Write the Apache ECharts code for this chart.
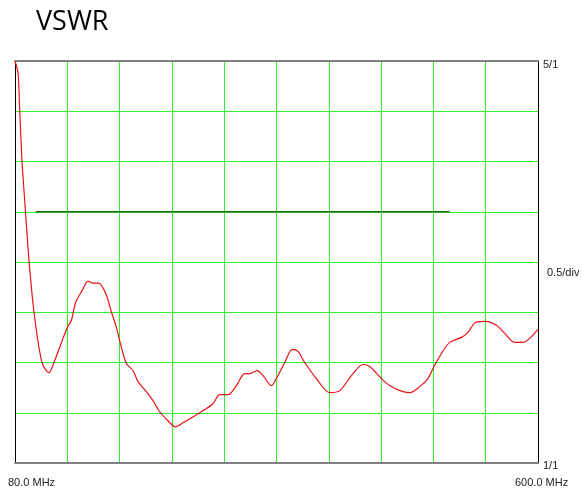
<!DOCTYPE html>
<html>
<head>
<meta charset="utf-8">
<script src="https://cdn.jsdelivr.net/npm/echarts@6/dist/echarts.min.js"></script>
<style>
  html, body { margin: 0; padding: 0; background: #fff; }
  #chart { width: 582px; height: 493px; }
</style>
</head>
<body>
<div id="chart"></div>
<script>
// sweep: frequency (MHz) and measured VSWR
const freqMHz = [80, 83.0, 84.7, 87.0, 89.6, 93.9, 98.9, 106.8, 113.8, 119.5, 124.4, 132.1, 136.1, 140.4, 147.0,
  152.6, 157.6, 163.2, 170.9, 175.9, 180.8, 185.8, 190.8, 197.3, 202.3, 210.6, 217.2, 223.9, 232.1, 239.5,
  247.0, 255.4, 263.6, 276.9, 283.5, 291.8, 300.1, 308.4, 313.4, 320.6, 326.6, 334.9, 339.9, 348.2, 355.8,
  361.4, 368.0, 379.7, 392.9, 402.9, 416.1, 426.0, 432.7, 444.3, 452.6, 462.5, 472.4, 482.4, 490.6, 496.6,
  504.0, 512.2, 523.9, 530.4, 538.1, 548.0, 558.7, 566.9, 576.8, 585.1, 591.7, 600];
const vswr = [5.0, 4.88, 4.50, 4.00, 3.62, 3.02, 2.50, 2.00, 1.90, 2.02, 2.15, 2.35, 2.42, 2.60, 2.72,
  2.81, 2.79, 2.79, 2.67, 2.50, 2.35, 2.15, 1.99, 1.92, 1.81, 1.71, 1.62, 1.51, 1.42, 1.36,
  1.40, 1.45, 1.50, 1.59, 1.68, 1.68, 1.77, 1.89, 1.89, 1.92, 1.87, 1.77, 1.84, 2.00, 2.13,
  2.11, 2.00, 1.84, 1.70, 1.72, 1.89, 1.98, 1.96, 1.84, 1.77, 1.72, 1.70, 1.76, 1.84, 1.96,
  2.09, 2.20, 2.25, 2.30, 2.40, 2.41, 2.37, 2.29, 2.20, 2.20, 2.24, 2.33];

// limit line
const limitFreq = [100.6, 512.2];
const limitVswr = [3.5, 3.5];

// scale labels
const startLabel = '80.0 MHz';
const stopLabel = '600.0 MHz';
const topLabel = '5/1';
const scaleLabel = '0.5/div';
const bottomLabel = '1/1';

const gridGreen = '#30f030';
const labelFont = '11px "Liberation Sans", Arial, sans-serif';

const chart = echarts.init(document.getElementById('chart'), null, { renderer: 'canvas' });

const option = {
  animation: false,
  backgroundColor: '#fff',
  title: {
    text: 'VSWR',
    left: 31,
    top: 4,
    textStyle: {
      fontFamily: '"Open Sans", sans-serif',
      fontSize: 27,
      fontWeight: 'normal',
      color: '#000'
    }
  },
  grid: { left: 15, right: 44, top: 61, bottom: 30 },
  xAxis: [
    {
      type: 'value', min: 80, max: 600, position: 'bottom',
      axisLine: { show: true, lineStyle: { color: '#808080', width: 2 } },
      axisTick: { show: false }, axisLabel: { show: false }, splitLine: { show: false }
    },
    {
      // 10 divisions, grid only
      type: 'value', min: 0, max: 10, interval: 1, position: 'top',
      axisLine: { show: true, lineStyle: { color: '#808080', width: 2 } },
      axisTick: { show: false }, axisLabel: { show: false },
      splitLine: { show: true, showMinLine: false, showMaxLine: false, lineStyle: { color: gridGreen, width: 1 } }
    }
  ],
  yAxis: [
    {
      type: 'value', min: 1, max: 5, interval: 0.5, position: 'left',
      axisLine: { show: true, lineStyle: { color: '#000', width: 1 } },
      axisTick: { show: false }, axisLabel: { show: false },
      splitLine: { show: true, showMinLine: false, showMaxLine: false, lineStyle: { color: gridGreen, width: 1 } }
    },
    {
      type: 'value', min: 1, max: 5, interval: 0.5, position: 'right',
      axisLine: { show: true, lineStyle: { color: '#000', width: 1 } },
      axisTick: { show: false }, axisLabel: { show: false }, splitLine: { show: false }
    }
  ],
  graphic: [
    { type: 'text', left: 8, top: 477, style: { text: startLabel, font: labelFont, fill: '#222' } },
    { type: 'text', left: 515, top: 477, style: { text: stopLabel, font: labelFont, fill: '#222' } },
    { type: 'text', left: 543, top: 59, style: { text: topLabel, font: labelFont, fill: '#222' } },
    { type: 'text', left: 547, top: 267, style: { text: scaleLabel, font: labelFont, fill: '#222' } },
    { type: 'text', left: 543, top: 460, style: { text: bottomLabel, font: labelFont, fill: '#222' } }
  ],
  series: [
    {
      name: 'limit',
      type: 'line',
      xAxisIndex: 0, yAxisIndex: 0,
      data: limitFreq.map((f, i) => [f, limitVswr[i]]),
      symbol: 'none',
      lineStyle: { color: '#1e6b1e', width: 1.5 },
      z: 3
    },
    {
      name: 'VSWR',
      type: 'line',
      xAxisIndex: 0, yAxisIndex: 0,
      data: freqMHz.map((f, i) => [f, vswr[i]]),
      symbol: 'none',
      smooth: 0.3,
      lineStyle: { color: '#ee1111', width: 1.2 },
      z: 4
    }
  ]
};

chart.setOption(option);
</script>
</body>
</html>
